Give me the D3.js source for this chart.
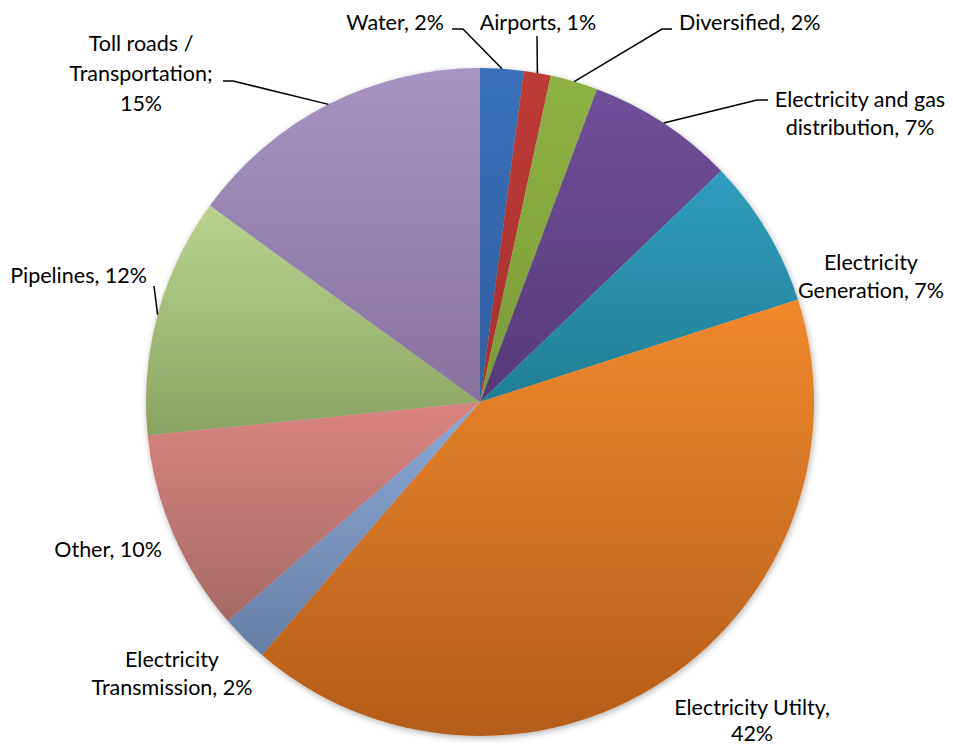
<!DOCTYPE html>
<html>
<head>
<meta charset="utf-8">
<script src="https://cdn.jsdelivr.net/npm/d3@7"></script>
<style>
  body { margin: 0; background: #fff; }
  text { font-family: Lato, "Open Sans", sans-serif; font-size: 21.5px; fill: #000; }
</style>
</head>
<body>
<svg id="chart"></svg>
<script>
// slice data, clockwise from 12 o'clock
let sectors = ["Water", "Airports", "Diversified", "Electricity and gas distribution",
               "Electricity Generation", "Electricity Utilty", "Electricity Transmission",
               "Other", "Pipelines", "Toll roads / Transportation"]
let shares = [2.1, 1.3, 2.3, 7.15, 7.2, 41.3, 2.3, 9.8, 11.6, 15.0]
let label_lines = [
  ["Water, 2%"],
  ["Airports, 1%"],
  ["Diversified, 2%"],
  ["Electricity and gas", "distribution, 7%"],
  ["Electricity", "Generation, 7%"],
  ["Electricity Utilty,", "42%"],
  ["Electricity", "Transmission, 2%"],
  ["Other, 10%"],
  ["Pipelines, 12%"],
  ["Toll roads /", "Transportation;", "15%"]
]
let top_colors = ["#3A71B9", "#BE3B36", "#8FB245", "#70509A", "#2F9EBF",
                  "#F1892C", "#8EA9D8", "#DA8481", "#BAD490", "#A794C2"]
let bottom_colors = ["#2F5F9F", "#A6302C", "#7A9A38", "#553A77", "#237E95",
                     "#B45D1B", "#667EA6", "#A56A67", "#8AA362", "#87729F"]

let width = 953,
  height = 746,
  cx = 480, cy = 402, radius = 334,
  // label layout: x, first baseline, anchor, line gap, leader points (text side)
  label_layout = [
    {x: 444, y: 30, anchor: "end", gap: 28, leader: [[452, 29], [463, 29]]},
    {x: 538, y: 30, anchor: "middle", gap: 28, leader: [[537, 36]]},
    {x: 679, y: 30, anchor: "start", gap: 28, leader: [[672, 29], [662, 29]]},
    {x: 860, y: 107, anchor: "middle", gap: 28, leader: [[768, 100], [757, 100]]},
    {x: 871, y: 270, anchor: "middle", gap: 28, leader: null},
    {x: 752, y: 715, anchor: "middle", gap: 26, leader: null},
    {x: 172, y: 667, anchor: "middle", gap: 28, leader: null},
    {x: 162, y: 557, anchor: "end", gap: 28, leader: null},
    {x: 147, y: 283, anchor: "end", gap: 28, leader: [[154, 286]]},
    {x: 141, y: 51, anchor: "middle", gap: 30, leader: [[223, 81], [233, 81]]}
  ];

let svg = d3.select("#chart").attr("width", width).attr("height", height)
let defs = svg.append("defs")

defs.append("filter").attr("id", "shadow")
  .attr("x", "-10%").attr("y", "-10%").attr("width", "120%").attr("height", "120%")
  .append("feDropShadow")
  .attr("dx", 1).attr("dy", 2).attr("stdDeviation", 3)
  .attr("flood-color", "#000").attr("flood-opacity", 0.3)

sectors.forEach((s, i) => {
  let g = defs.append("linearGradient").attr("id", "grad" + i)
    .attr("x1", 0).attr("y1", 0).attr("x2", 0).attr("y2", 1)
  g.append("stop").attr("offset", "0%").attr("stop-color", top_colors[i])
  g.append("stop").attr("offset", "100%").attr("stop-color", bottom_colors[i])
})

let pie = d3.pie().sort(null).value(d => d)
let arcs = pie(shares)
let arc = d3.arc().innerRadius(0).outerRadius(radius)

let pie_g = svg.append("g")
  .attr("transform", `translate(${cx},${cy})`)
  .attr("filter", "url(#shadow)")

pie_g.selectAll("path")
  .data(arcs).enter()
  .append("path")
  .attr("d", arc)
  .attr("fill", (d, i) => `url(#grad${i})`)

// leader lines run from the text to the rim at the middle of the slice
let edge = d => {
  let a = (d.startAngle + d.endAngle) / 2
  return [cx + radius * Math.sin(a), cy - radius * Math.cos(a)]
}

svg.append("g").selectAll("path")
  .data(arcs.filter((d, i) => label_layout[i].leader)).enter()
  .append("path")
  .attr("d", d => d3.line()(label_layout[d.index].leader.concat([edge(d)])))
  .attr("fill", "none")
  .attr("stroke", "#000")
  .attr("stroke-width", 1.5)

let labels = svg.append("g").selectAll("text")
  .data(label_lines).enter()
  .append("text")
  .attr("text-anchor", (d, i) => label_layout[i].anchor)

labels.selectAll("tspan")
  .data((d, i) => d.map(t => ({t: t, i: i})))
  .enter().append("tspan")
  .attr("x", d => label_layout[d.i].x)
  .attr("y", (d, j) => label_layout[d.i].y + j * label_layout[d.i].gap)
  .text(d => d.t)
</script>
</body>
</html>
